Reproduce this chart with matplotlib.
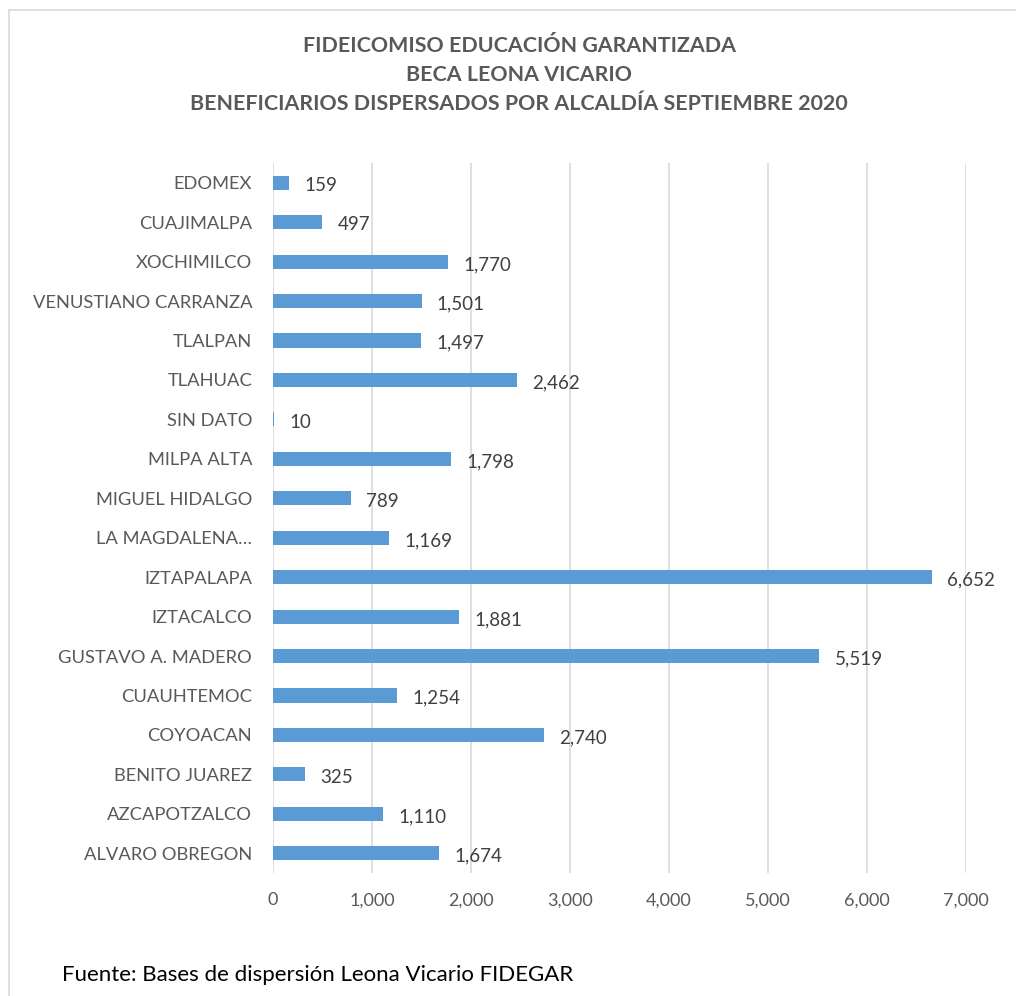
import matplotlib
matplotlib.use("Agg")
import matplotlib.pyplot as plt
from matplotlib.patches import Rectangle
from matplotlib.ticker import FuncFormatter

categories = ["ALVARO OBREGON", "AZCAPOTZALCO", "BENITO JUAREZ", "COYOACAN", "CUAUHTEMOC",
              "GUSTAVO A. MADERO", "IZTACALCO", "IZTAPALAPA", "LA MAGDALENA…", "MIGUEL HIDALGO",
              "MILPA ALTA", "SIN DATO", "TLAHUAC", "TLALPAN", "VENUSTIANO CARRANZA",
              "XOCHIMILCO", "CUAJIMALPA", "EDOMEX"]
values = [1674, 1110, 325, 2740, 1254, 5519, 1881, 6652, 1169, 789,
          1798, 10, 2462, 1497, 1501, 1770, 497, 159]
xticks = [0, 1000, 2000, 3000, 4000, 5000, 6000, 7000]

plt.rcParams['font.family'] = ['Lato', 'DejaVu Sans']

fig = plt.figure(figsize=(10.16, 9.96), dpi=100)
fig.patches.append(Rectangle((9/1016, -0.1), 1.2, 1 - 10/996 + 0.1, transform=fig.transFigure,
                             fill=False, edgecolor="#D9D9D9", linewidth=1.2))

ax = fig.add_axes([273/1016, 1 - 873/996, (966 - 273)/1016, (873 - 163)/996])
ypos = list(range(len(categories)))
ax.barh(ypos, values, height=0.36, color="#5B9BD5", zorder=3)
ax.set_xlim(0, 7000)
ax.set_ylim(-0.5, len(categories) - 0.5)
ax.set_yticks(ypos)
ax.set_yticklabels(categories, fontsize=13.2, color="#595959")
ax.set_xticks(xticks)
ax.xaxis.set_major_formatter(FuncFormatter(lambda v, p: f"{int(v):,}"))
for lab in ax.get_xticklabels():
    lab.set_fontsize(13)
    lab.set_color("#595959")
ax.tick_params(axis='both', length=0)
ax.tick_params(axis='y', pad=15)
ax.tick_params(axis='x', pad=14)
ax.grid(axis='x', color="#D9D9D9", linewidth=1.2, zorder=0)
for s in ax.spines.values():
    s.set_visible(False)

for y, v in zip(ypos, values):
    ax.annotate(f"{v:,}", (v, y), xytext=(11, -2), textcoords="offset points",
                ha="left", va="center", fontsize=13.5, color="#404040")

fig.text(0.511, 1 - 46/996, "FIDEICOMISO EDUCACIÓN GARANTIZADA", ha="center", va="center",
         fontsize=15.4, fontweight="bold", color="#595959")
fig.text(0.511, 1 - 75/996, "BECA LEONA VICARIO", ha="center", va="center",
         fontsize=15.4, fontweight="bold", color="#595959")
fig.text(0.511, 1 - 104/996, "BENEFICIARIOS DISPERSADOS POR ALCALDÍA SEPTIEMBRE 2020", ha="center",
         va="center", fontsize=15.4, fontweight="bold", color="#595959")
fig.text(62/1016, 1 - 975/996, "Fuente: Bases de dispersión Leona Vicario FIDEGAR", ha="left",
         va="center", fontsize=16, color="#000000")

fig.savefig("out.png", dpi=100)
